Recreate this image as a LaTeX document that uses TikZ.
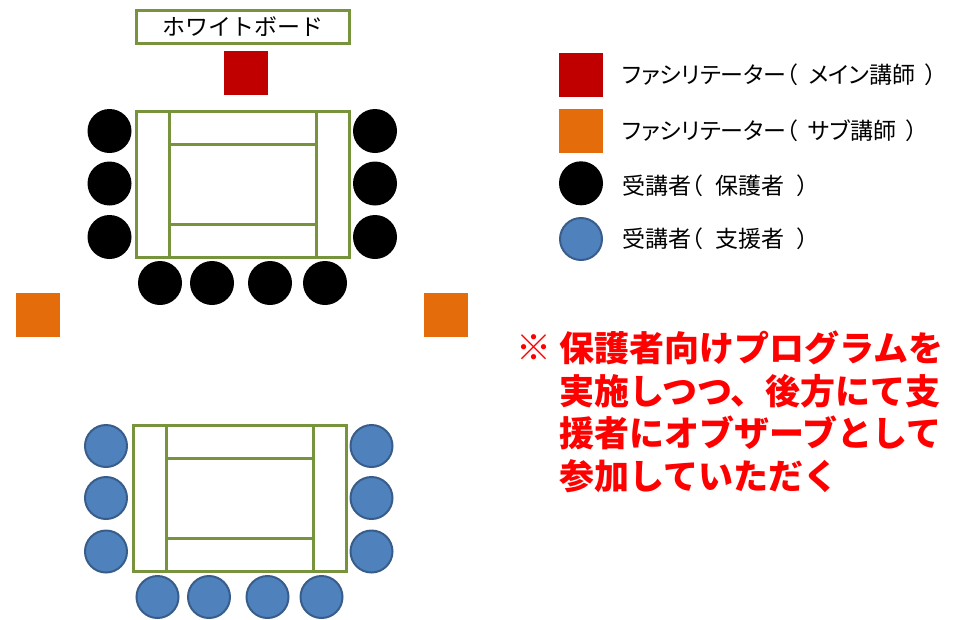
\documentclass[tikz,border=0pt]{standalone}
\usepackage{fontspec}
\newfontfamily\jp{Noto Sans CJK JP}
\newfontfamily\jpp[RawFeature=+palt]{Noto Sans CJK JP}
\definecolor{tgreen}{HTML}{77933C}
\definecolor{mred}{HTML}{C00000}
\definecolor{sorange}{HTML}{E46C0A}
\definecolor{pblue}{HTML}{4F81BD}
\definecolor{pblueb}{HTML}{385D8A}
\definecolor{notered}{HTML}{FF0000}
\begin{document}
\begin{tikzpicture}[x=1pt,y=-1pt,
  tbl/.style={draw=tgreen,line width=3pt},
  guest/.style={circle,fill=black,minimum size=44pt,inner sep=0pt},
  support/.style={circle,fill=pblue,draw=pblueb,line width=2pt,minimum size=42pt,inner sep=0pt},
  mainfac/.style={fill=mred,minimum size=44pt,inner sep=0pt},
  subfac/.style={fill=sorange,minimum size=44pt,inner sep=0pt},
  lbl/.style={anchor=west,font=\jpp\fontsize{23}{27}\selectfont,inner sep=0pt},
  note/.style={anchor=west,align=left,text=notered,font=\jp\bfseries\fontsize{35}{42.5}\selectfont,inner sep=0pt}]
\useasboundingbox (0,0) rectangle (957,619);
% whiteboard
\node[tbl,minimum width=213pt,minimum height=33pt,inner sep=0pt,font=\jp\fontsize{23}{26}\selectfont] (wb) at (242.5,26.5) {ホワイトボード};
% main facilitator
\node[mainfac] (mf) at (246,73) {};
% sub facilitators
\node[subfac] (sf1) at (37.5,314.7) {};
\node[subfac] (sf2) at (446,314.5) {};
% top table (guardians)
\begin{scope}
  \draw[tbl] (136,111) rectangle (349,257);
  \draw[tbl] (169,111) -- (169,257) (316,111) -- (316,257);
  \draw[tbl] (169,144) -- (316,144) (169,224) -- (316,224);
\end{scope}
\foreach \i/\y in {1/131,2/183.5,3/237}{
  \node[guest] (gl\i) at (109.5,\y) {};
  \node[guest] (gr\i) at (375,\y) {};
}
\foreach \i/\x in {1/160,2/212,3/270,4/325}{
  \node[guest] (gb\i) at (\x,283) {};
}
% bottom table (supporters)
\begin{scope}[shift={(-3,314)}]
  \draw[tbl] (136,111) rectangle (349,257);
  \draw[tbl] (169,111) -- (169,257) (316,111) -- (316,257);
  \draw[tbl] (169,144) -- (316,144) (169,224) -- (316,224);
\end{scope}
\foreach \i/\y in {1/446,2/498,3/551.5}{
  \node[support] (sl\i) at (106,\y) {};
  \node[support] (sr\i) at (371.5,\y) {};
}
\foreach \i/\x in {1/157.5,2/209,3/267.5,4/321.5}{
  \node[support] (sb\i) at (\x,597) {};
}
% legend
\node[mainfac] (lg1) at (581,75.3) {};
\node[subfac] (lg2) at (581,131.3) {};
\node[guest] (lg3) at (581,183.3) {};
\node[support] (lg4) at (581,239) {};
\node[lbl] (lt1) at (622,75) {ファシリテーター（\hspace{0.45em}メイン講師\hspace{0.45em}）};
\node[lbl] (lt2) at (622,131) {ファシリテーター（\hspace{0.45em}サブ講師\hspace{0.45em}）};
\node[lbl] (lt3) at (622,185.5) {受講者（\hspace{0.55em}保護者\hspace{0.55em}）};
\node[lbl] (lt4) at (622,239) {受講者（\hspace{0.55em}支援者\hspace{0.55em}）};
% note
\node[anchor=west,inner sep=0pt,text=notered,font=\jp\bfseries\fontsize{35}{42.5}\selectfont] (mark) at (516,348) {※};
\node[note] (nt) at (559,412) {保護者向けプログラムを\\実施しつつ、後方にて支\\援者にオブザーブとして\\参加していただく};
\end{tikzpicture}
\end{document}
